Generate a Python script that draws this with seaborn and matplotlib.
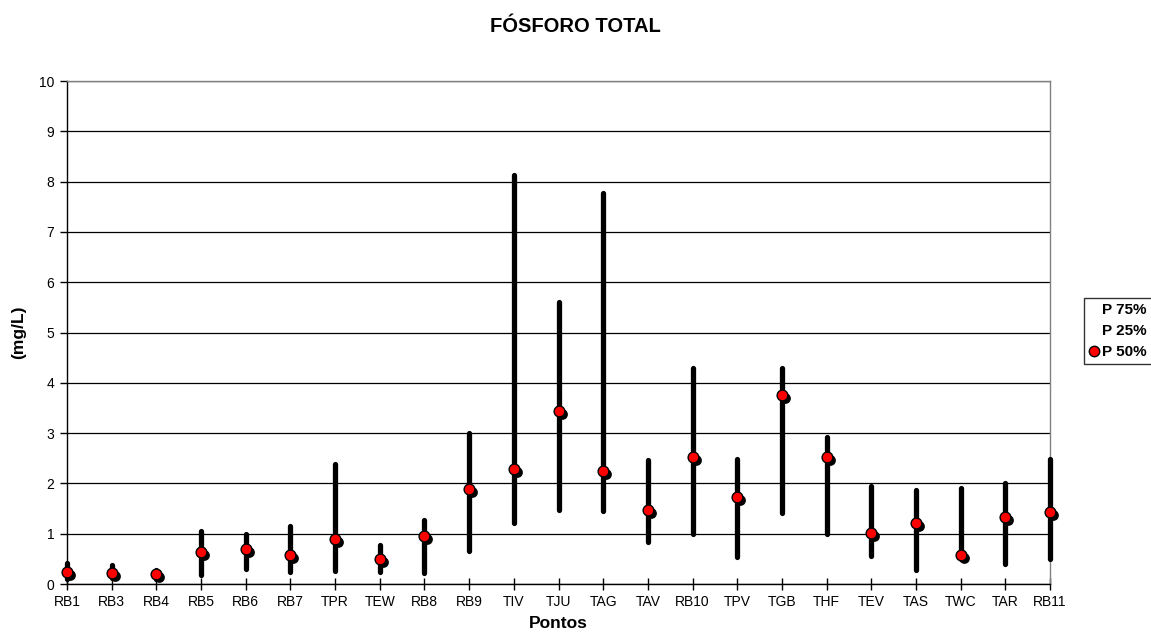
import matplotlib
matplotlib.use("Agg")
import matplotlib.pyplot as plt
import matplotlib.transforms as mtransforms
from matplotlib.lines import Line2D
import seaborn as sns
import pandas as pd

pontos = ["RB1", "RB3", "RB4", "RB5", "RB6", "RB7", "TPR", "TEW", "RB8", "RB9",
          "TIV", "TJU", "TAG", "TAV", "RB10", "TPV", "TGB", "THF", "TEV", "TAS",
          "TWC", "TAR", "RB11"]
p75 = [0.42, 0.38, 0.28, 1.05, 0.99, 1.15, 2.39, 0.78, 1.28, 3.00,
       8.13, 5.61, 7.78, 2.46, 4.29, 2.49, 4.29, 2.93, 1.95, 1.87,
       1.90, 2.01, 2.49]
p25 = [0.10, 0.12, 0.10, 0.17, 0.30, 0.23, 0.25, 0.23, 0.22, 0.65,
       1.22, 1.47, 1.45, 0.83, 0.99, 0.54, 1.42, 1.00, 0.55, 0.28,
       0.50, 0.40, 0.50]
p50 = [0.23, 0.21, 0.20, 0.63, 0.69, 0.57, 0.90, 0.49, 0.95, 1.89,
       2.28, 3.43, 2.24, 1.47, 2.53, 1.74, 3.76, 2.53, 1.02, 1.21,
       0.57, 1.33, 1.43]

df = pd.DataFrame({"Pontos": pontos, "P75": p75, "P25": p25, "P50": p50})

sns.set_style("white")
plt.rcParams["font.family"] = ["Liberation Sans", "DejaVu Sans"]
plt.rcParams.update({"text.color": "black", "axes.labelcolor": "black",
                     "xtick.color": "black", "ytick.color": "black"})

fig = plt.figure(figsize=(11.51, 6.42), dpi=100)
ax = fig.add_axes([0.0582, 0.0903, 0.8541, 0.7835])

# high-low ranges between P25 and P75
ranges = ax.vlines(df["Pontos"], df["P25"], df["P75"], color="black",
                   lw=3.8, zorder=3, clip_on=False)
ranges.set_capstyle("round")

# shadow behind each median marker
shadow = mtransforms.offset_copy(ax.transData, fig=fig, x=3, y=-3,
                                 units="dots")
sns.scatterplot(data=df, x="Pontos", y="P50", ax=ax, color="black",
                s=60, edgecolor="black", linewidth=0, zorder=4,
                transform=shadow, legend=False, clip_on=False)
sns.scatterplot(data=df, x="Pontos", y="P50", ax=ax, color="#ff0000",
                s=60, edgecolor="black", linewidth=1.0, zorder=5,
                legend=False, clip_on=False)

ax.set_xlim(0, len(pontos) - 1)
ax.set_ylim(0, 10)
ax.set_yticks(range(0, 11))
ax.set_xticks(range(len(pontos)))
ax.set_xticklabels(pontos)
ax.yaxis.grid(True, color="black", lw=0.9)
ax.set_axisbelow(True)

for side in ["left", "bottom"]:
    ax.spines[side].set_color("black")
    ax.spines[side].set_linewidth(1.0)
for side in ["top", "right"]:
    ax.spines[side].set_visible(True)
    ax.spines[side].set_color("#808080")
    ax.spines[side].set_linewidth(1.0)

ax.tick_params(axis="y", direction="out", length=5, width=1, labelsize=10,
               left=True, pad=4, colors="black")
ax.tick_params(axis="x", direction="inout", length=8, width=1, labelsize=10,
               bottom=True, pad=4, colors="black")

ax.set_xlabel("Pontos", fontsize=12.5, fontweight="bold", labelpad=5,
              color="black")
ax.set_ylabel("(mg/L)", fontsize=12.5, fontweight="bold", labelpad=9,
              color="black")
fig.text(0.5, 1 - 26 / 642, "FÓSFORO TOTAL", fontsize=14.5,
         fontweight="bold", ha="center", va="center", color="black")

handles = [
    Line2D([], [], lw=0, marker=None),
    Line2D([], [], lw=0, marker=None),
    Line2D([], [], lw=0, marker="o", markerfacecolor="#ff0000",
           markeredgecolor="black", markersize=7.5),
]
leg = fig.legend(handles, ["P 75%", "P 25%", "P 50%"],
                 loc="upper left", bbox_to_anchor=(1084 / 1151, 1 - 298 / 642),
                 borderaxespad=0, frameon=True, fancybox=False,
                 handlelength=0.6, handletextpad=0.25, borderpad=0.35,
                 labelspacing=0.45,
                 prop={"size": 11, "weight": "bold"})
leg.get_frame().set_edgecolor("black")
leg.get_frame().set_linewidth(1.0)
for t in leg.get_texts():
    t.set_color("black")

fig.savefig("out.png", dpi=100)
